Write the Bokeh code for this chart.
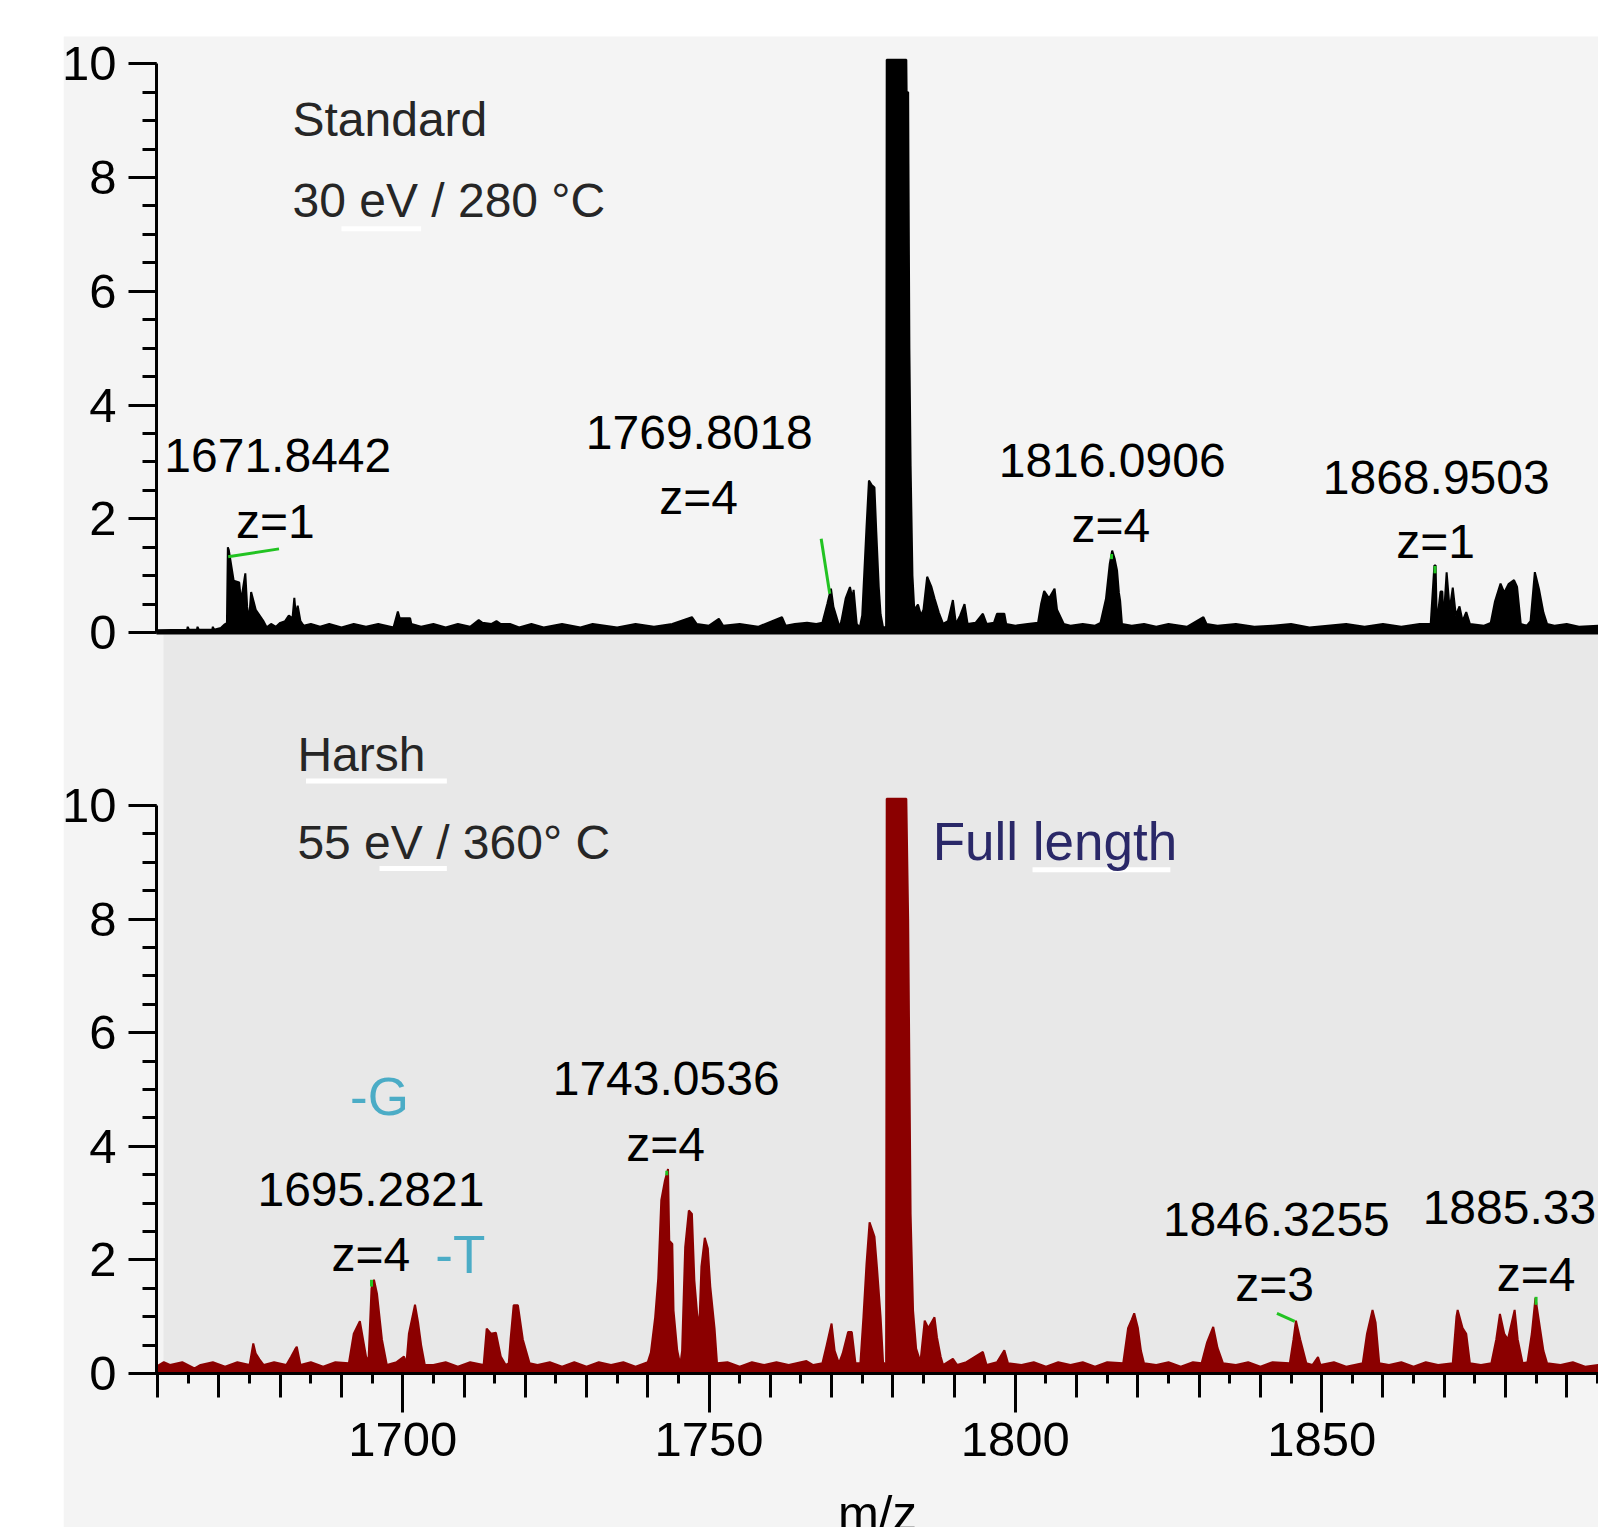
from bokeh.plotting import figure
from bokeh.models import Range1d, FixedTicker, LinearAxis, BoxAnnotation, Label, Spacer
from bokeh.layouts import row
from bokeh.embed import file_html
from bokeh.resources import INLINE
from bokeh.core.properties import value

# ---------------- data (m/z, relative intensity) ----------------
STANDARD_POINTS = [
    (1659.8, 0.04), (1664.8, 0.05), (1664.9, 0.10), (1665.1, 0.05), (1666.4, 0.05), (1666.5, 0.10),
    (1666.7, 0.05), (1668.9, 0.05), (1669.0, 0.10), (1669.2, 0.05), (1670.3, 0.08), (1670.9, 0.14),
    (1671.3, 0.17), (1671.45, 1.50), (1671.6, 1.45), (1672.4, 0.91), (1673.3, 0.88), (1673.6, 0.55),
    (1674.3, 1.04), (1674.6, 0.45), (1674.9, 0.21), (1675.25, 0.71), (1676.0, 0.40), (1677.2, 0.21),
    (1677.8, 0.09), (1678.5, 0.15), (1679.3, 0.10), (1680.0, 0.17), (1680.8, 0.20), (1681.4, 0.30),
    (1682.0, 0.25), (1682.3, 0.61), (1682.55, 0.30), (1682.85, 0.47), (1683.3, 0.20), (1683.8, 0.12),
    (1685.0, 0.15), (1686.5, 0.10), (1688.0, 0.15), (1690.0, 0.09), (1692.0, 0.15), (1694.0, 0.10),
    (1696.0, 0.15), (1698.5, 0.09), (1699.2, 0.37), (1699.5, 0.25), (1701.2, 0.25), (1701.4, 0.15),
    (1703.0, 0.10), (1705.0, 0.15), (1707.0, 0.09), (1709.0, 0.15), (1711.0, 0.10), (1712.4, 0.22),
    (1713.0, 0.17), (1714.5, 0.15), (1715.3, 0.20), (1716.0, 0.15), (1717.5, 0.15), (1719.0, 0.09),
    (1721.0, 0.15), (1723.0, 0.09), (1726.0, 0.15), (1729.0, 0.09), (1731.0, 0.15), (1735.0, 0.09),
    (1738.0, 0.15), (1741.0, 0.10), (1744.0, 0.15), (1747.2, 0.27), (1748.0, 0.15), (1750.0, 0.12),
    (1751.6, 0.24), (1752.3, 0.12), (1755.0, 0.15), (1758.0, 0.10), (1761.9, 0.27), (1762.5, 0.12),
    (1764.0, 0.15), (1766.0, 0.17), (1767.5, 0.15), (1768.5, 0.17), (1769.3, 0.50), (1769.9, 0.77),
    (1770.3, 0.45), (1771.0, 0.20), (1771.3, 0.09), (1771.6, 0.20), (1772.3, 0.60), (1773.0, 0.80),
    (1773.4, 0.60), (1773.6, 0.75), (1774.1, 0.15), (1774.6, 0.09), (1775.0, 0.30), (1775.7, 1.85),
    (1776.1, 2.67), (1776.5, 2.60), (1777.0, 2.55), (1777.3, 1.76), (1777.7, 0.80), (1778.0, 0.32),
    (1778.4, 0.09), (1778.9, 0.09), (1779.0, 10.07), (1782.2, 10.07), (1782.25, 9.50), (1782.5, 9.50),
    (1782.55, 8.24), (1782.7, 5.00), (1782.9, 2.93), (1783.2, 1.00), (1783.5, 0.40), (1784.1, 0.49),
    (1784.6, 0.30), (1785.0, 0.40), (1785.6, 0.98), (1786.3, 0.80), (1786.8, 0.60), (1787.5, 0.35),
    (1788.2, 0.15), (1789.0, 0.20), (1789.8, 0.57), (1790.3, 0.15), (1791.0, 0.30), (1791.7, 0.50),
    (1792.2, 0.15), (1793.5, 0.17), (1794.7, 0.33), (1795.3, 0.15), (1796.5, 0.17), (1797.0, 0.33),
    (1798.2, 0.33), (1798.5, 0.15), (1800.0, 0.12), (1802.0, 0.15), (1803.7, 0.17), (1804.2, 0.50),
    (1804.7, 0.73), (1805.5, 0.60), (1806.4, 0.77), (1806.8, 0.40), (1807.9, 0.15), (1809.0, 0.12),
    (1811.0, 0.15), (1813.0, 0.12), (1813.9, 0.17), (1814.8, 0.60), (1815.4, 1.20), (1815.8, 1.44),
    (1816.2, 1.30), (1816.6, 1.09), (1816.9, 0.70), (1817.1, 0.56), (1817.4, 0.15), (1819.0, 0.12),
    (1821.0, 0.15), (1823.0, 0.10), (1825.0, 0.15), (1828.0, 0.10), (1830.7, 0.27), (1831.2, 0.15),
    (1833.0, 0.12), (1836.0, 0.15), (1839.0, 0.10), (1842.0, 0.12), (1845.0, 0.15), (1848.0, 0.09),
    (1851.0, 0.12), (1854.0, 0.15), (1857.0, 0.10), (1860.0, 0.15), (1863.0, 0.10), (1866.0, 0.15),
    (1867.8, 0.15), (1868.4, 1.18), (1868.6, 1.18), (1868.8, 0.15), (1869.4, 0.72), (1869.7, 0.72),
    (1869.9, 0.20), (1870.4, 1.06), (1870.9, 0.40), (1871.4, 0.79), (1871.9, 0.30), (1872.5, 0.46),
    (1873.0, 0.20), (1873.6, 0.36), (1874.2, 0.15), (1876.5, 0.12), (1877.6, 0.17), (1878.3, 0.55),
    (1879.2, 0.86), (1879.8, 0.70), (1880.5, 0.85), (1881.4, 0.92), (1881.9, 0.80), (1882.5, 0.15),
    (1883.5, 0.12), (1884.1, 0.20), (1884.8, 1.06), (1885.5, 0.75), (1886.2, 0.35), (1886.8, 0.15),
    (1888.0, 0.12), (1890.0, 0.15), (1892.0, 0.10), (1895.2, 0.12),
]

HARSH_POINTS = [
    (1659.8, 0.12), (1661.0, 0.20), (1662.0, 0.15), (1664.0, 0.20), (1666.0, 0.09), (1667.0, 0.15),
    (1669.0, 0.20), (1671.0, 0.12), (1673.0, 0.20), (1675.0, 0.15), (1675.6, 0.53), (1676.0, 0.35),
    (1676.6, 0.25), (1677.3, 0.15), (1679.0, 0.20), (1681.0, 0.15), (1681.8, 0.30), (1682.4, 0.42),
    (1682.7, 0.47), (1683.3, 0.15), (1685.0, 0.20), (1687.0, 0.12), (1689.0, 0.20), (1691.2, 0.18),
    (1692.0, 0.70), (1693.0, 0.92), (1694.0, 0.30), (1694.4, 0.20), (1694.9, 1.50), (1695.3, 1.65),
    (1695.8, 1.40), (1696.6, 0.60), (1697.4, 0.15), (1699.0, 0.20), (1700.2, 0.30), (1700.6, 0.18),
    (1701.0, 0.70), (1702.0, 1.21), (1702.5, 0.90), (1703.0, 0.50), (1703.6, 0.15), (1705.0, 0.15),
    (1707.0, 0.20), (1709.0, 0.12), (1711.0, 0.20), (1713.2, 0.15), (1713.7, 0.79), (1714.4, 0.70),
    (1715.2, 0.72), (1716.0, 0.30), (1716.8, 0.15), (1717.3, 0.18), (1717.6, 0.60), (1718.1, 1.20),
    (1718.8, 1.20), (1719.6, 0.60), (1720.7, 0.18), (1722.0, 0.15), (1724.0, 0.20), (1726.0, 0.12),
    (1728.0, 0.20), (1730.0, 0.12), (1732.0, 0.20), (1734.0, 0.15), (1736.0, 0.20), (1738.0, 0.12),
    (1740.0, 0.20), (1740.5, 0.37), (1741.2, 0.99), (1741.7, 1.67), (1742.2, 3.05), (1742.8, 3.40),
    (1743.3, 3.60), (1743.5, 2.34), (1744.0, 2.28), (1744.2, 1.11), (1744.8, 0.41), (1745.3, 0.15),
    (1745.6, 0.40), (1746.1, 2.22), (1746.7, 2.87), (1747.2, 2.81), (1747.6, 1.64), (1748.05, 1.06),
    (1748.4, 0.80), (1748.75, 1.88), (1749.3, 2.39), (1749.8, 2.20), (1750.2, 1.53), (1750.9, 0.79),
    (1751.3, 0.18), (1753.0, 0.20), (1755.0, 0.12), (1757.0, 0.20), (1759.0, 0.15), (1761.0, 0.20),
    (1763.0, 0.15), (1765.9, 0.22), (1767.0, 0.15), (1768.5, 0.18), (1769.2, 0.50), (1770.0, 0.88),
    (1770.5, 0.40), (1771.2, 0.18), (1771.8, 0.35), (1772.7, 0.73), (1773.3, 0.73), (1773.9, 0.18),
    (1774.7, 0.18), (1775.2, 1.00), (1775.7, 1.93), (1776.2, 2.66), (1777.0, 2.41), (1777.4, 1.88),
    (1778.0, 1.00), (1778.4, 0.20), (1778.9, 0.15), (1779.0, 10.12), (1782.2, 10.12), (1782.5, 8.00),
    (1782.9, 2.81), (1783.3, 1.11), (1783.8, 0.44), (1784.5, 0.20), (1785.2, 0.93), (1785.8, 0.80),
    (1786.8, 0.99), (1787.2, 0.64), (1787.8, 0.30), (1788.2, 0.15), (1789.8, 0.26), (1790.5, 0.15),
    (1792.0, 0.20), (1794.7, 0.38), (1795.3, 0.15), (1797.0, 0.20), (1798.2, 0.41), (1798.8, 0.18),
    (1801.0, 0.15), (1803.0, 0.20), (1805.0, 0.12), (1807.0, 0.20), (1809.0, 0.15), (1811.0, 0.20),
    (1813.0, 0.12), (1815.0, 0.20), (1817.6, 0.18), (1818.4, 0.80), (1819.0, 0.95), (1819.4, 1.06),
    (1820.0, 0.80), (1820.5, 0.40), (1821.0, 0.18), (1823.0, 0.15), (1825.0, 0.20), (1827.0, 0.12),
    (1829.0, 0.20), (1830.4, 0.18), (1831.3, 0.55), (1832.3, 0.82), (1833.0, 0.45), (1833.9, 0.18),
    (1836.0, 0.15), (1838.0, 0.20), (1840.0, 0.12), (1842.0, 0.20), (1844.8, 0.18), (1845.4, 0.60),
    (1845.8, 0.93), (1846.5, 0.60), (1847.5, 0.18), (1848.5, 0.15), (1849.4, 0.29), (1849.8, 0.15),
    (1852.0, 0.20), (1854.0, 0.12), (1856.7, 0.18), (1857.4, 0.70), (1858.3, 1.12), (1858.8, 0.90),
    (1859.4, 0.18), (1861.0, 0.15), (1863.0, 0.20), (1865.0, 0.12), (1867.0, 0.20), (1869.0, 0.15),
    (1871.4, 0.18), (1872.0, 1.00), (1872.2, 1.12), (1873.0, 0.80), (1873.6, 0.70), (1874.2, 0.18),
    (1876.0, 0.15), (1877.7, 0.18), (1878.5, 0.60), (1879.1, 1.05), (1879.8, 0.70), (1880.4, 0.60),
    (1881.5, 1.12), (1882.0, 0.60), (1882.8, 0.18), (1883.6, 0.20), (1884.3, 0.70), (1884.9, 1.33),
    (1885.5, 0.90), (1886.2, 0.40), (1886.8, 0.18), (1889.0, 0.15), (1891.0, 0.20), (1893.0, 0.12),
    (1895.2, 0.15),
]
std_mz = [p[0] for p in STANDARD_POINTS]
std_int = [p[1] for p in STANDARD_POINTS]
harsh_mz = [p[0] for p in HARSH_POINTS]
harsh_int = [p[1] for p in HARSH_POINTS]

# peak annotations (anchored at m/z, intensity; y = vertical centre of the text)
std_mass_text = ["1671.8442", "1769.8018", "1816.0906", "1868.9503"]
std_mass_x = [1679.6, 1748.4, 1815.8, 1868.7]
std_mass_y = [3.12, 3.52, 3.03, 2.73]
std_z_text = ["z=1", "z=4", "z=4", "z=1"]
std_z_x = [1679.2, 1748.3, 1815.6, 1868.6]
std_z_y = [1.96, 2.37, 1.88, 1.60]

harsh_mass_text = ["1695.2821", "1743.0536", "1846.3255", "1885.3314"]
harsh_mass_x = [1694.8, 1743.0, 1842.6, 1885.0]
harsh_mass_y = [3.24, 5.19, 2.71, 2.93]
harsh_z_text = ["z=4", "z=4", "z=3", "z=4"]
harsh_z_x = [1694.8, 1742.9, 1842.3, 1885.0]
harsh_z_y = [2.10, 4.04, 1.57, 1.74]

# leader lines (x0, y0, x1, y1)
std_lead = [(1671.5, 1.33, 1679.8, 1.47), (1768.3, 1.65, 1769.7, 0.68),
            (1815.7, 1.38, 1815.7, 1.29), (1868.5, 1.17, 1868.5, 1.04)]
harsh_lead = [(1694.9, 1.65, 1694.9, 1.53), (1743.1, 3.57, 1743.1, 3.49),
              (1842.7, 1.06, 1845.6, 0.92), (1885.0, 1.35, 1885.0, 1.21)]

x_ticks_major = [1700, 1750, 1800, 1850]
x_ticks_ten = list(range(1660, 1900, 10))
x_ticks_five = list(range(1660, 1900, 5))
y_ticks = [0, 2, 4, 6, 8, 10]
y_ticks_minor = [i * 0.5 for i in range(21)]

# ---------------- styling ----------------
FONT = "Liberation Sans"
FS_TICK = "49px"
FS_TEXT = "48px"
FS_BIG = "53px"
LIGHT = "#f4f4f4"
DARK = "#e8e8e8"
GREEN = "#22c322"
AX_X = 1659.8            # m/z at the y axes
X0, X1 = 1644.62, 1895.19
W, H = 1535, 1527

p = figure(width=W, height=H, x_range=Range1d(X0, X1), y_range=Range1d(-2.711, 24.173),
           x_axis_location=None, y_axis_location=None,
           output_backend="svg", toolbar_location=None,
           min_border=0, min_border_left=0, min_border_right=0,
           min_border_top=0, min_border_bottom=0)
p.extra_y_ranges = {"top": Range1d(-15.738, 11.113)}
p.background_fill_color = "white"
p.border_fill_color = "white"
p.outline_line_color = None
p.grid.visible = False

# panel backgrounds
p.add_layout(BoxAnnotation(top=10.48, y_range_name="top", fill_color=LIGHT, fill_alpha=1,
                           line_alpha=0, level="underlay"))
p.add_layout(BoxAnnotation(left=1660.95, bottom=0, top=13.01, fill_color=DARK, fill_alpha=1,
                           line_alpha=0, level="underlay"))


def make_yaxis(rng):
    ax = LinearAxis(y_range_name=rng, fixed_location=AX_X,
                    ticker=FixedTicker(ticks=y_ticks, minor_ticks=y_ticks_minor))
    ax.bounds = (0, 10)
    ax.axis_line_width = 3
    ax.axis_line_color = "black"
    ax.major_tick_line_width = 3
    ax.minor_tick_line_width = 3
    ax.major_tick_out = 28
    ax.major_tick_in = 0
    ax.minor_tick_out = 14
    ax.minor_tick_in = 0
    ax.major_label_standoff = 12
    ax.major_label_text_font = FONT
    ax.major_label_text_font_size = FS_TICK
    ax.major_label_text_color = "black"
    p.add_layout(ax, "left")


make_yaxis("default")
make_yaxis("top")

# bottom x axis: labelled every 50, small ticks every 5
xa = LinearAxis(fixed_location=0, bounds=(AX_X, X1),
                ticker=FixedTicker(ticks=x_ticks_major, minor_ticks=x_ticks_five))
xa.axis_line_width = 3
xa.axis_line_color = "black"
xa.major_tick_line_width = 3
xa.minor_tick_line_width = 3
xa.major_tick_out = 39
xa.major_tick_in = 0
xa.minor_tick_out = 10
xa.minor_tick_in = 0
xa.major_label_standoff = 10
xa.major_label_text_font = FONT
xa.major_label_text_font_size = FS_TICK
xa.major_label_text_color = "black"
p.add_layout(xa, "below")

# medium ticks every 10
ax10 = LinearAxis(fixed_location=0, bounds=(AX_X, X1),
                  ticker=FixedTicker(ticks=[], minor_ticks=x_ticks_ten),
                  axis_line_color=None, major_tick_out=0, major_tick_in=0,
                  minor_tick_out=24, minor_tick_in=0, minor_tick_line_width=3,
                  minor_tick_line_color="black")
p.add_layout(ax10, "below")

# baseline of the upper spectrum
ax_top_base = LinearAxis(y_range_name="top", fixed_location=0, bounds=(AX_X, X1),
                         ticker=FixedTicker(ticks=[], minor_ticks=[]),
                         axis_line_width=4, axis_line_color="black",
                         major_tick_out=0, minor_tick_out=0)
p.add_layout(ax_top_base, "below")


def add_text(xs, ys, texts, align, color="black", rng="default", size=FS_TEXT):
    p.text(x=xs, y=ys, text=texts, text_font=value(FONT), text_font_size=size,
           text_align=align, text_baseline="middle", text_color=color, y_range_name=rng)


# ---- upper spectrum (standard conditions) ----
p.varea(x=std_mz, y1=0, y2=std_int, fill_color="black", y_range_name="top")
p.line(x=std_mz, y=std_int, line_color="black", line_width=2, y_range_name="top")
p.segment(x0=[1690.0], y0=[7.10], x1=[1703.0], y1=[7.10], line_color="white", line_width=5,
          y_range_name="top")
add_text([1682.0, 1682.0], [9.02, 7.59], ["Standard", "30 eV / 280 °C"], "left", "#262626", "top")
add_text(std_mass_x, std_mass_y, std_mass_text, "center", rng="top")
add_text(std_z_x, std_z_y, std_z_text, "center", rng="top")
p.segment(x0=[s[0] for s in std_lead], y0=[s[1] for s in std_lead],
          x1=[s[2] for s in std_lead], y1=[s[3] for s in std_lead],
          line_color=GREEN, line_width=3, y_range_name="top")

# ---- lower spectrum (harsh conditions) ----
p.varea(x=harsh_mz, y1=0, y2=harsh_int, fill_color="#8b0000")
p.line(x=harsh_mz, y=harsh_int, line_color="#8b0000", line_width=2)
p.segment(x0=[1684.2, 1696.2, 1802.8], y0=[10.43, 8.89, 8.87],
          x1=[1707.2, 1707.2, 1825.3], y1=[10.43, 8.89, 8.87],
          line_color="white", line_width=5)
add_text([1682.8, 1682.8], [10.89, 9.35], ["Harsh", "55 eV / 360° C"], "left", "#262626")
add_text([1786.5], [9.36], ["Full length"], "left", "#2a2868", size=FS_BIG)
add_text([1691.4, 1705.3], [4.88, 2.10], ["-G", "-T"], "left", "#4bacc6", size=FS_BIG)
add_text(harsh_mass_x, harsh_mass_y, harsh_mass_text, "center")
add_text(harsh_z_x, harsh_z_y, harsh_z_text, "center")
p.segment(x0=[s[0] for s in harsh_lead], y0=[s[1] for s in harsh_lead],
          x1=[s[2] for s in harsh_lead], y1=[s[3] for s in harsh_lead],
          line_color=GREEN, line_width=3)

p.add_layout(Label(x=(AX_X + X1) / 2, y=-2.45, text="m/z", text_align="center",
                   text_baseline="middle", text_font=FONT, text_font_size=FS_TICK,
                   text_color="black"))

layout = row(Spacer(width=63, height=H), p)

open("out.html", "w").write(file_html(layout, INLINE))
